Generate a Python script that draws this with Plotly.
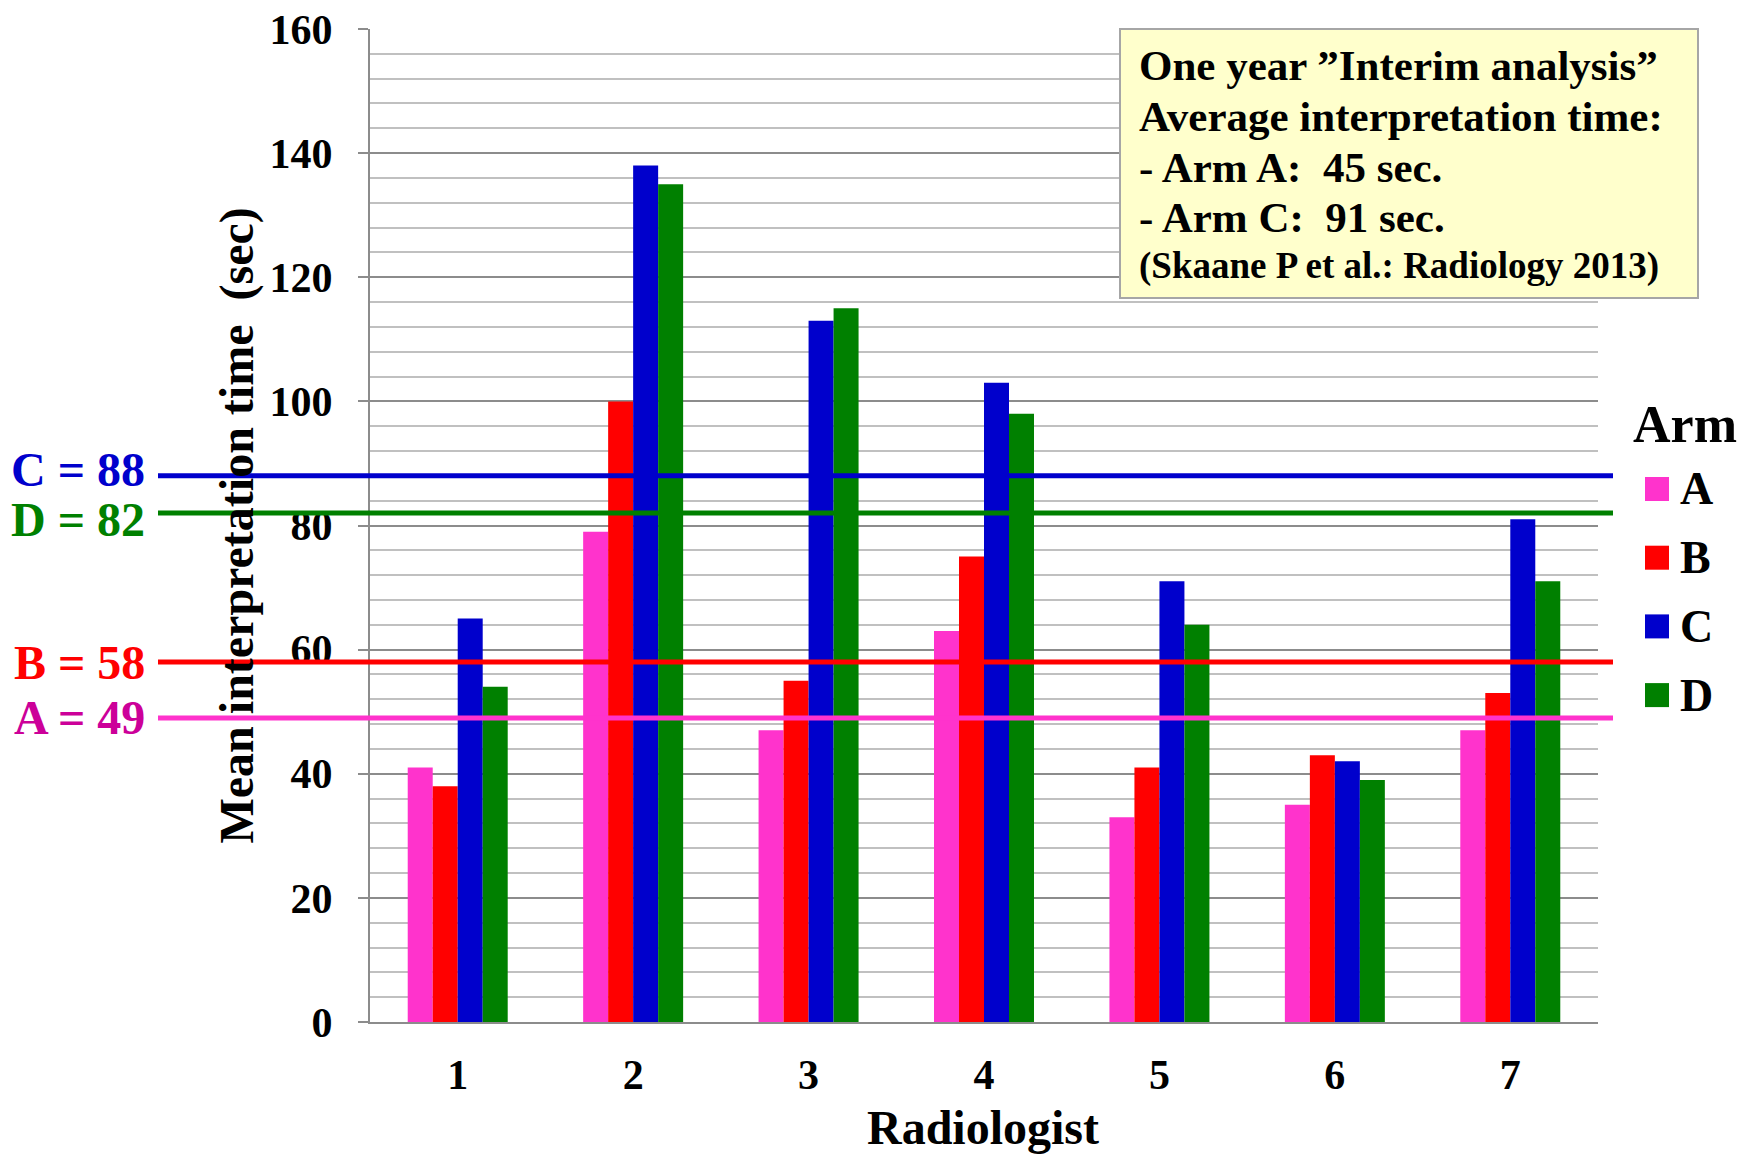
import plotly.graph_objects as go

# ---- data -------------------------------------------------------------
radiologists = ["1", "2", "3", "4", "5", "6", "7"]
arm_names = ["A", "B", "C", "D"]
arm_a = [41, 79, 47, 63, 33, 35, 47]
arm_b = [38, 100, 55, 75, 41, 43, 53]
arm_c = [65, 138, 113, 103, 71, 42, 81]
arm_d = [54, 135, 115, 98, 64, 39, 71]
arm_values = [arm_a, arm_b, arm_c, arm_d]
bar_colors = ["#FF33CC", "#FF0000", "#0000CC", "#008000"]

# overall mean reading time per arm (reference lines)
mean_arms = ["C", "D", "B", "A"]
mean_times = [88, 82, 58, 49]
mean_line_colors = ["#0000CC", "#008000", "#FF0000", "#FF33CC"]
mean_text_colors = ["#0000CC", "#008000", "#FF0000", "#CC0099"]
# small vertical nudges so neighbouring labels do not collide
mean_label_shift = [6, -6, 0, 0]

# interim analysis summary
interim_arms = ["A", "C"]
interim_secs = [45, 91]

y_tick_vals = [0, 20, 40, 60, 80, 100, 120, 140, 160]

# ---- geometry helpers (pixels -> paper coords) -------------------------
W, H = 1742, 1157
L, R, T, B = 370, 144, 29, 135
PW, PH = W - L - R, H - T - B


def px_x(x):
    return (x - L) / PW


def px_y(y):
    return (H - B - y) / PH


FONT = "Liberation Serif, Times New Roman, serif"
NB = "\u00a0"

fig = go.Figure()
for name, vals, col in zip(arm_names, arm_values, bar_colors):
    fig.add_trace(go.Bar(x=radiologists, y=vals, name=name,
                         marker=dict(color=col, line=dict(width=0)),
                         showlegend=False))

shapes = []
annotations = []

# mean lines with their labels on the left
for arm, val, lc, tc, sh in zip(mean_arms, mean_times, mean_line_colors,
                                mean_text_colors, mean_label_shift):
    shapes.append(dict(type="line", xref="paper", yref="y",
                       x0=px_x(158), x1=px_x(1613), y0=val, y1=val,
                       line=dict(color=lc, width=5), layer="above"))
    annotations.append(dict(xref="paper", yref="y", x=px_x(147), y=val, yshift=sh,
                            xanchor="right", yanchor="middle", showarrow=False,
                            text=f"{arm} = {val}",
                            font=dict(family=FONT, size=48, color=tc, weight="bold")))

# summary box
shapes.append(dict(type="rect", xref="paper", yref="paper",
                   x0=px_x(1120), x1=px_x(1698), y0=px_y(298), y1=px_y(29),
                   fillcolor="#FFFFCC", line=dict(color="#A6A6A6", width=2),
                   layer="above"))
box_lines = [
    ("One year \u201dInterim analysis\u201d", 43, 66),
    ("Average interpretation time:", 43, 117),
]
for arm, sec, yy in zip(interim_arms, interim_secs, [168, 218]):
    box_lines.append((f"- Arm {arm}:{NB}{NB}{sec} sec.", 43, yy))
box_lines.append(("(Skaane P et al.: Radiology 2013)", 37, 266))
for txt, sz, yy in box_lines:
    annotations.append(dict(xref="paper", yref="paper", x=px_x(1137), y=px_y(yy),
                            xanchor="left", yanchor="middle", showarrow=False,
                            text=txt,
                            font=dict(family=FONT, size=sz, color="black", weight="bold")))

# legend drawn by hand
annotations.append(dict(xref="paper", yref="paper", x=px_x(1631), y=px_y(424),
                        xanchor="left", yanchor="middle", showarrow=False,
                        text="Arm", font=dict(family=FONT, size=52, color="black", weight="bold")))
for i, (name, col) in enumerate(zip(arm_names, bar_colors)):
    cy = 489 + i * 68.7
    shapes.append(dict(type="rect", xref="paper", yref="paper",
                       x0=px_x(1645), x1=px_x(1669), y0=px_y(cy + 12), y1=px_y(cy - 12),
                       fillcolor=col, line=dict(width=0)))
    annotations.append(dict(xref="paper", yref="paper", x=px_x(1678), y=px_y(cy),
                            xanchor="left", yanchor="middle", showarrow=False,
                            text=name, font=dict(family=FONT, size=46, color="black", weight="bold")))

# axis titles
annotations.append(dict(xref="paper", yref="paper", x=px_x(236), y=0.5,
                        xanchor="center", yanchor="middle", showarrow=False, textangle=-90,
                        text=f"Mean interpretation time{NB}{NB}(sec)",
                        font=dict(family=FONT, size=48, color="black", weight="bold")))
annotations.append(dict(xref="paper", yref="paper", x=px_x(983), y=px_y(1127),
                        xanchor="center", yanchor="middle", showarrow=False,
                        text="Radiologist",
                        font=dict(family=FONT, size=48, color="black", weight="bold")))

fig.update_layout(
    width=W, height=H,
    margin=dict(l=L, r=R, t=T, b=B, pad=0, autoexpand=False),
    paper_bgcolor="white", plot_bgcolor="white",
    barmode="group", bargap=0.43, bargroupgap=0,
    shapes=shapes, annotations=annotations,
    showlegend=False,
    font=dict(family=FONT, color="black"),
)
fig.update_xaxes(
    automargin=False,
    showline=True, linecolor="#8C8C8C", linewidth=2,
    ticks="", showgrid=False,
    tickfont=dict(family=FONT, size=42, color="black", weight="bold"),
    ticklabelstandoff=15,
)
fig.update_yaxes(
    automargin=False,
    range=[0, 160], tickvals=y_tick_vals,
    showline=True, linecolor="#8C8C8C", linewidth=2,
    ticks="outside", ticklen=10, tickwidth=2, tickcolor="#8C8C8C",
    showgrid=True, gridcolor="#8C8C8C", gridwidth=2, zeroline=False,
    minor=dict(dtick=4, showgrid=True, gridcolor="#C0C0C0", gridwidth=2, ticks=""),
    tickfont=dict(family=FONT, size=42, color="black", weight="bold"),
    ticklabelstandoff=17,
)

fig.write_html("out.html")
